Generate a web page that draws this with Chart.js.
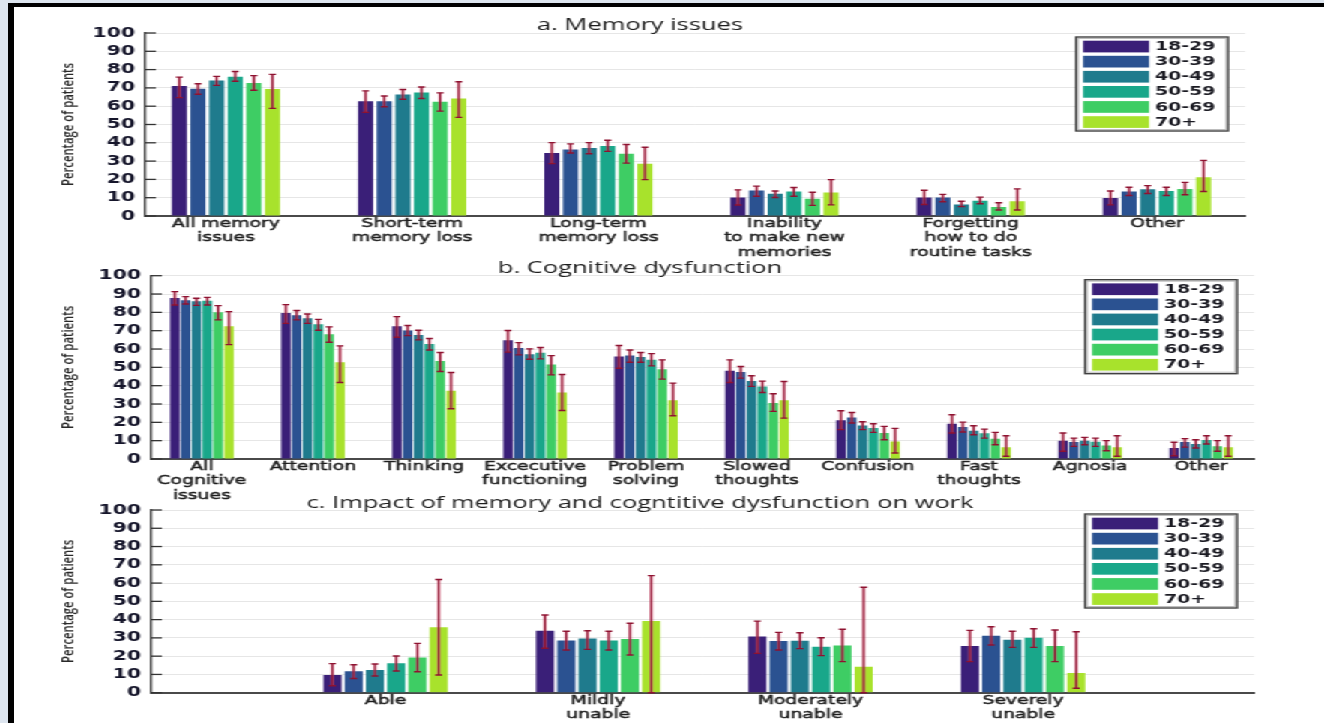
<!DOCTYPE html>
<html>
<head>
<meta charset="utf-8">
<title>Memory and cognitive dysfunction by age group</title>
<script src="https://cdn.jsdelivr.net/npm/chart.js@4.4.1/dist/chart.umd.min.js"></script>
<style>
  html, body { margin: 0; padding: 0; width: 1324px; height: 723px; overflow: hidden; background: #dde5ef; }
  #frame { position: absolute; left: 8px; top: 3px; width: 1400px; height: 800px; background: #fff;
           border-top: 4px solid #000; border-left: 6px solid #000; }
  #stage { position: absolute; left: 0; top: 0; width: 883px; height: 723px;
           transform: scaleX(1.49943); transform-origin: 0 0; }
  #stage canvas { position: absolute; left: 0; }
</style>
</head>
<body>
<div id="frame"></div>
<div id="stage">
  <canvas id="memChart" width="883" height="262" style="top:0px;width:883px;height:262px"></canvas>
  <canvas id="cogChart" width="883" height="256" style="top:250px;width:883px;height:256px"></canvas>
  <canvas id="workChart" width="883" height="235" style="top:488px;width:883px;height:235px"></canvas>
</div>
<script>
// ---- age groups ----
const ageGroups = ['18-29', '30-39', '40-49', '50-59', '60-69', '70+'];
const ageColors = ['#3a1f78', '#2b5291', '#1f7b8d', '#19a78a', '#3ecd64', '#a8e22c'];

// ---- a. Memory issues (rows = age groups) ----
const memoryCategories = [['All memory', 'issues'], ['Short-term', 'memory loss'], ['Long-term', 'memory loss'],
  ['Inability', 'to make new', 'memories'], ['Forgetting', 'how to do', 'routine tasks'], ['Other']];
const memoryPct = [
  [71.1, 62.7, 34.4, 10.1, 10.1, 9.9],
  [69.6, 62.7, 36.3, 13.9, 10.1, 13.4],
  [74.1, 66.4, 37.1, 12.1, 6.3, 14.6],
  [76.1, 67.5, 38.2, 13.4, 8.3, 13.7],
  [72.7, 62.4, 34.0, 9.4, 4.9, 14.8],
  [69.4, 64.2, 28.6, 12.8, 8.0, 21.2]
];
const memoryHi = [
  [75.9, 68.4, 40.1, 14.3, 14.1, 13.7],
  [72.3, 65.6, 39.4, 16.3, 11.8, 15.7],
  [76.3, 69.1, 40.1, 13.7, 8.1, 16.6],
  [79.0, 70.5, 41.4, 15.6, 10.3, 15.7],
  [76.7, 67.3, 39.1, 13.0, 7.2, 18.4],
  [77.4, 73.4, 37.6, 19.9, 14.8, 30.4]
];
const memoryLo = [
  [64.7, 56.6, 28.6, 6.0, 6.3, 6.1],
  [66.5, 59.7, 34.4, 10.8, 7.8, 11.2],
  [71.4, 63.8, 34.0, 10.1, 5.1, 12.3],
  [73.6, 64.2, 35.3, 10.8, 6.7, 11.2],
  [68.7, 57.3, 28.9, 5.8, 3.3, 11.6],
  [58.8, 53.9, 19.9, 6.1, 3.3, 13.4]
];

// ---- b. Cognitive dysfunction ----
const cognitiveCategories = [['All', 'Cognitive', 'issues'], ['Attention'], ['Thinking'], ['Excecutive', 'functioning'],
  ['Problem', 'solving'], ['Slowed', 'thoughts'], ['Confusion'], ['Fast', 'thoughts'], ['Agnosia'], ['Other']];
const cognitivePct = [
  [87.8, 79.7, 72.4, 64.8, 55.9, 48.1, 21.1, 19.2, 10.0, 6.0],
  [86.6, 78.4, 70.1, 60.6, 56.4, 47.4, 22.7, 17.4, 9.3, 9.3],
  [86.0, 76.8, 67.7, 57.2, 55.7, 42.6, 18.3, 15.4, 10.0, 8.2],
  [86.4, 73.5, 62.8, 57.9, 54.1, 39.6, 16.9, 14.0, 9.4, 10.3],
  [80.0, 68.1, 53.4, 51.5, 49.0, 30.5, 14.2, 11.1, 7.3, 6.9],
  [72.4, 52.8, 37.2, 36.3, 32.1, 32.1, 9.6, 6.4, 6.4, 6.4]
];
const cognitiveHi = [
  [91.3, 84.2, 77.7, 70.1, 61.9, 54.1, 26.3, 24.1, 14.2, 9.1],
  [88.6, 81.0, 72.8, 63.5, 59.5, 50.5, 25.4, 20.1, 11.4, 11.1],
  [87.7, 79.1, 70.2, 60.1, 58.1, 45.4, 20.3, 18.1, 11.8, 10.5],
  [88.2, 76.2, 65.7, 60.8, 57.5, 42.5, 19.2, 16.3, 11.4, 12.7],
  [83.7, 72.1, 58.1, 56.4, 54.1, 35.6, 17.8, 14.5, 10.0, 10.0],
  [80.4, 61.7, 47.2, 46.1, 41.4, 42.3, 16.7, 12.7, 12.7, 12.7]
];
const cognitiveLo = [
  [84.0, 74.0, 66.4, 58.3, 49.5, 41.7, 16.0, 14.2, 4.2, 1.8],
  [84.6, 75.9, 67.3, 56.8, 52.8, 44.1, 19.6, 14.7, 6.9, 6.5],
  [83.8, 74.0, 65.0, 54.4, 52.8, 39.6, 16.0, 13.2, 7.8, 6.0],
  [84.0, 70.2, 59.5, 54.6, 50.8, 36.3, 14.5, 11.4, 6.9, 8.2],
  [75.9, 63.7, 47.7, 45.9, 43.6, 26.0, 10.5, 7.8, 4.5, 4.2],
  [62.4, 41.7, 27.4, 26.5, 23.6, 22.3, 3.3, 1.5, 1.5, 1.5]
];

// ---- c. Impact on work ----
const workCategories = [['Able'], ['Mildly', 'unable'], ['Moderately', 'unable'], ['Severely', 'unable']];
const workPct = [
  [9.7, 33.9, 30.7, 25.5],
  [11.7, 28.6, 28.3, 31.2],
  [12.4, 29.7, 28.5, 29.0],
  [16.1, 28.6, 25.2, 30.1],
  [19.2, 29.4, 25.9, 25.5],
  [35.8, 39.2, 14.2, 10.8]
];
const workHi = [
  [15.9, 42.5, 39.2, 34.1],
  [15.3, 33.6, 33.0, 36.1],
  [15.7, 33.9, 32.8, 33.6],
  [20.1, 33.6, 30.1, 35.0],
  [27.0, 38.0, 34.7, 34.3],
  [62.0, 64.1, 57.7, 33.4]
];
const workLo = [
  [3.8, 24.3, 21.5, 17.0],
  [7.8, 23.4, 23.4, 26.1],
  [9.1, 23.7, 24.1, 24.8],
  [11.9, 23.4, 20.3, 24.8],
  [11.5, 20.6, 17.0, 17.0],
  [9.7, 0.0, 0.0, 2.4]
];

const yTicks = [0, 10, 20, 30, 40, 50, 60, 70, 80, 90, 100];

// The stage is drawn narrow and widened by CSS; px() converts page x to stage x.
const STAGE_W = 883;
const S = 1324 / STAGE_W;
const px = v => v / S;

const errorBars = {
  id: 'errorBars',
  afterDatasetsDraw(chart) {
    const ctx = chart.ctx, y = chart.scales.y;
    ctx.save();
    ctx.lineCap = 'butt';
    chart.data.datasets.forEach((ds, k) => {
      chart.getDatasetMeta(k).data.forEach((bar, i) => {
        const x = bar.x;
        const yt = y.getPixelForValue(ds.errHi[i]);
        const yb = y.getPixelForValue(ds.errLo[i]);
        ctx.strokeStyle = 'rgba(214,96,124,0.55)';
        ctx.lineWidth = px(3.8);
        ctx.beginPath(); ctx.moveTo(x, yt); ctx.lineTo(x, yb); ctx.stroke();
        ctx.strokeStyle = '#8e1230';
        ctx.lineWidth = px(1.6);
        ctx.beginPath(); ctx.moveTo(x, yt); ctx.lineTo(x, yb); ctx.stroke();
        ctx.lineWidth = 1.4;
        ctx.beginPath();
        ctx.moveTo(x - px(3.5), yt); ctx.lineTo(x + px(3.5), yt);
        ctx.moveTo(x - px(3.5), yb); ctx.lineTo(x + px(3.5), yb);
        ctx.stroke();
      });
    });
    ctx.restore();
  }
};

const innerTicks = {
  id: 'innerTicks',
  beforeDatasetsDraw(chart) {
    const ctx = chart.ctx, y = chart.scales.y, a = chart.chartArea;
    ctx.save();
    ctx.strokeStyle = '#333';
    ctx.lineWidth = 1.3;
    y.ticks.forEach(t => {
      const yy = y.getPixelForValue(t.value);
      ctx.beginPath(); ctx.moveTo(a.left, yy); ctx.lineTo(a.left + px(11), yy); ctx.stroke();
    });
    ctx.restore();
  }
};

const ageLegend = {
  id: 'ageLegend',
  afterDraw(chart) {
    const ctx = chart.ctx, a = chart.chartArea;
    const w = px(152), h = 94;
    const x0 = a.right - px(17) - w, y0 = a.top + 4;
    ctx.save();
    ctx.fillStyle = '#fff';
    ctx.fillRect(x0, y0, w, h);
    ctx.font = 'bold 12.6px "DejaVu Sans"';
    ctx.textBaseline = 'middle';
    ctx.textAlign = 'left';
    chart.data.datasets.forEach((ds, k) => {
      const sy = y0 + 3.7 + k * 15.1;
      ctx.fillStyle = ds.backgroundColor;
      ctx.fillRect(x0 + px(7), sy, px(66), 11.7);
      ctx.fillStyle = '#1a1a22';
      ctx.fillText(ds.label, x0 + px(79), sy + 6.2);
    });
    ctx.strokeStyle = '#bdbdbd';
    ctx.lineWidth = 1;
    ctx.strokeRect(x0 + px(2), y0 + 1.5, w - px(4), h - 3);
    ctx.strokeStyle = '#404040';
    ctx.lineWidth = 1.4;
    ctx.strokeRect(x0, y0, w, h);
    ctx.restore();
  }
};

function makePanel(p) {
  const W = STAGE_W;
  const pr = W - px(p.area.right);
  const titleCenter = px(640);
  const pl = 2 * titleCenter - px(p.area.right);
  const yWidth = px(p.area.left) - pl;
  const titleLh = 17 * 0.6;
  const tPadTop = (p.titleY - p.top) - titleLh / 2;
  const tPadBottom = Math.max(0, (p.area.top - p.top) - tPadTop - titleLh);
  const xHeight = (p.top + p.height) - p.area.bottom;
  const yTitleLh = 11.3 * 1.2;
  const yTitlePad = px(68) - pl - yTitleLh / 2;

  const datasets = ageGroups.map((g, k) => ({
    label: g,
    data: p.categories.map((c, i) => ({ x: i + 1, y: p.values[k][i] })),
    backgroundColor: ageColors[k],
    borderWidth: 0,
    categoryPercentage: p.catPct,
    barPercentage: p.barPct,
    errLo: p.lo[k],
    errHi: p.hi[k]
  }));

  return new Chart(document.getElementById(p.id), {
    type: 'bar',
    data: { datasets },
    options: {
      responsive: false,
      animation: false,
      devicePixelRatio: 1,
      layout: { padding: { left: pl, right: pr, top: 0, bottom: 0 } },
      plugins: {
        legend: { display: false },
        tooltip: { enabled: false },
        title: {
          display: true, text: p.title, color: '#1e1e1e',
          font: { family: '"Open Sans"', size: 17, weight: '500', lineHeight: 0.6 },
          padding: { top: tPadTop, bottom: tPadBottom }
        }
      },
      scales: {
        x: {
          type: 'linear', min: p.xMin, max: p.xMax, offset: false,
          afterBuildTicks: s => { s.ticks = p.categories.map((c, i) => ({ value: i + 1 })); },
          afterFit: s => { s.height = xHeight; },
          grid: { display: true, drawOnChartArea: false, drawTicks: false, color: 'rgba(0,0,0,0)' },
          border: { display: true, color: '#4a4a4a', width: 2 },
          ticks: {
            autoSkip: false, maxRotation: 0, minRotation: 0, padding: 0.5, color: '#1e1e1e',
            textStrokeColor: '#1e1e1e', textStrokeWidth: 0.45,
            font: { family: '"DejaVu Sans"', size: 12.5, lineHeight: 1.15 },
            callback: v => p.categories[Math.round(v) - 1] || ''
          }
        },
        y: {
          min: 0, max: 100,
          afterBuildTicks: s => { s.ticks = yTicks.map(v => ({ value: v })); },
          afterFit: s => { s.width = yWidth; },
          grid: { color: '#e6e6e6', lineWidth: 1, drawTicks: false },
          border: { display: true, color: '#333', width: 1.4 },
          ticks: {
            autoSkip: false, padding: px(10), color: '#15152a',
            font: { family: '"DejaVu Sans"', size: 13.5, weight: 'bold' }
          },
          title: {
            display: true, text: 'Percentage of patients', color: '#2a2a2a',
            font: { family: '"Open Sans"', size: 11.3, weight: '600', lineHeight: 1.2 },
            padding: { top: yTitlePad, bottom: 0 }
          }
        }
      }
    },
    plugins: [innerTicks, errorBars, ageLegend]
  });
}

makePanel({
  id: 'memChart', top: 0, height: 262, title: 'a. Memory issues', titleY: 25,
  area: { left: 145, right: 1245, top: 33, bottom: 216 },
  xMin: 0.565, xMax: 6.473, catPct: 0.6, barPct: 0.81,
  categories: memoryCategories, values: memoryPct, lo: memoryLo, hi: memoryHi
});
makePanel({
  id: 'cogChart', top: 250, height: 256, title: 'b. Cognitive dysfunction', titleY: 268,
  area: { left: 151, right: 1254, top: 275.7, bottom: 459 },
  xMin: 0.541, xMax: 10.477, catPct: 0.585, barPct: 0.88,
  categories: cognitiveCategories, values: cognitivePct, lo: cognitiveLo, hi: cognitiveHi
});
makePanel({
  id: 'workChart', top: 488, height: 235, title: 'c. Impact of memory and cogntitive dysfunction on work', titleY: 503,
  area: { left: 151, right: 1254, top: 510, bottom: 692.7 },
  xMin: -0.104, xMax: 5.087, catPct: 0.6, barPct: 0.85,
  categories: workCategories, values: workPct, lo: workLo, hi: workHi
});
</script>
</body>
</html>
